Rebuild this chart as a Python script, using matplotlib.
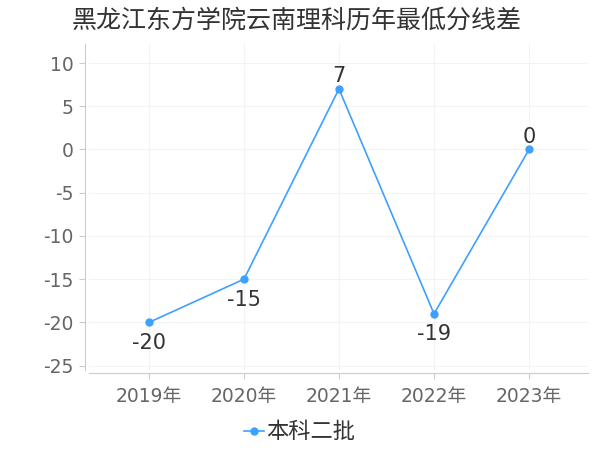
import matplotlib
matplotlib.use("Agg")
import matplotlib.pyplot as plt

plt.rcParams['font.family'] = ['DejaVu Sans', 'Noto Sans CJK SC']
plt.rcParams['axes.unicode_minus'] = False

years = ["2019年", "2020年", "2021年", "2022年", "2023年"]
values = [-20, -15, 7, -19, 0]
series_name = "本科二批"
title = "黑龙江东方学院云南理科历年最低分线差"
yticks = [-25, -20, -15, -10, -5, 0, 5, 10]

color = "#3ea0ff"
fig = plt.figure(figsize=(6, 4.5), dpi=100)
ax = fig.add_axes([89/600, 1-370/450, (588-89)/600, (370-44)/450])

x = list(range(len(years)))
ax.plot(x, values, color=color, lw=1.2, marker='o', ms=5, label=series_name, zorder=3)

for xi, v in zip(x, values):
    if v >= 0:
        ax.annotate(str(v), (xi, v), xytext=(0, 2), textcoords='offset points',
                    ha='center', va='bottom', fontsize=15, color='#333333')
    else:
        ax.annotate(str(v), (xi, v), xytext=(0, -7.5), textcoords='offset points',
                    ha='center', va='top', fontsize=15, color='#333333')

ax.set_xlim(-0.63, 4.62)
ax.set_ylim(-25.5, 12.2)
ax.set_yticks(yticks)
ax.set_xticks(x)
ax.set_xticklabels(years)
ax.grid(True, color='#f3f3f3', lw=0.8)
ax.set_axisbelow(True)

for s in ['top', 'right']:
    ax.spines[s].set_visible(False)
ax.spines['left'].set_position(('outward', 3))
ax.spines['bottom'].set_position(('outward', 2))
ax.spines['left'].set_color('#cccccc')
ax.spines['bottom'].set_color('#cccccc')
ax.tick_params(axis='both', colors='#cccccc', labelcolor='#666666', labelsize=13.5, length=4)
ax.tick_params(axis='y', pad=4)
ax.tick_params(axis='x', pad=6)

fig.text(0.495, 0.955, title, ha='center', va='center', fontsize=18, color='#333333',
         family=['Noto Sans CJK SC', 'DejaVu Sans'])

leg = ax.legend(loc='center', bbox_to_anchor=(0.422, -0.19), frameon=False,
                handlelength=0.9, handletextpad=0.1,
                prop={'family': ['Noto Sans CJK SC', 'DejaVu Sans'], 'size': 16})
for t in leg.get_texts():
    t.set_color('#333333')

fig.savefig("out.png", dpi=100)
